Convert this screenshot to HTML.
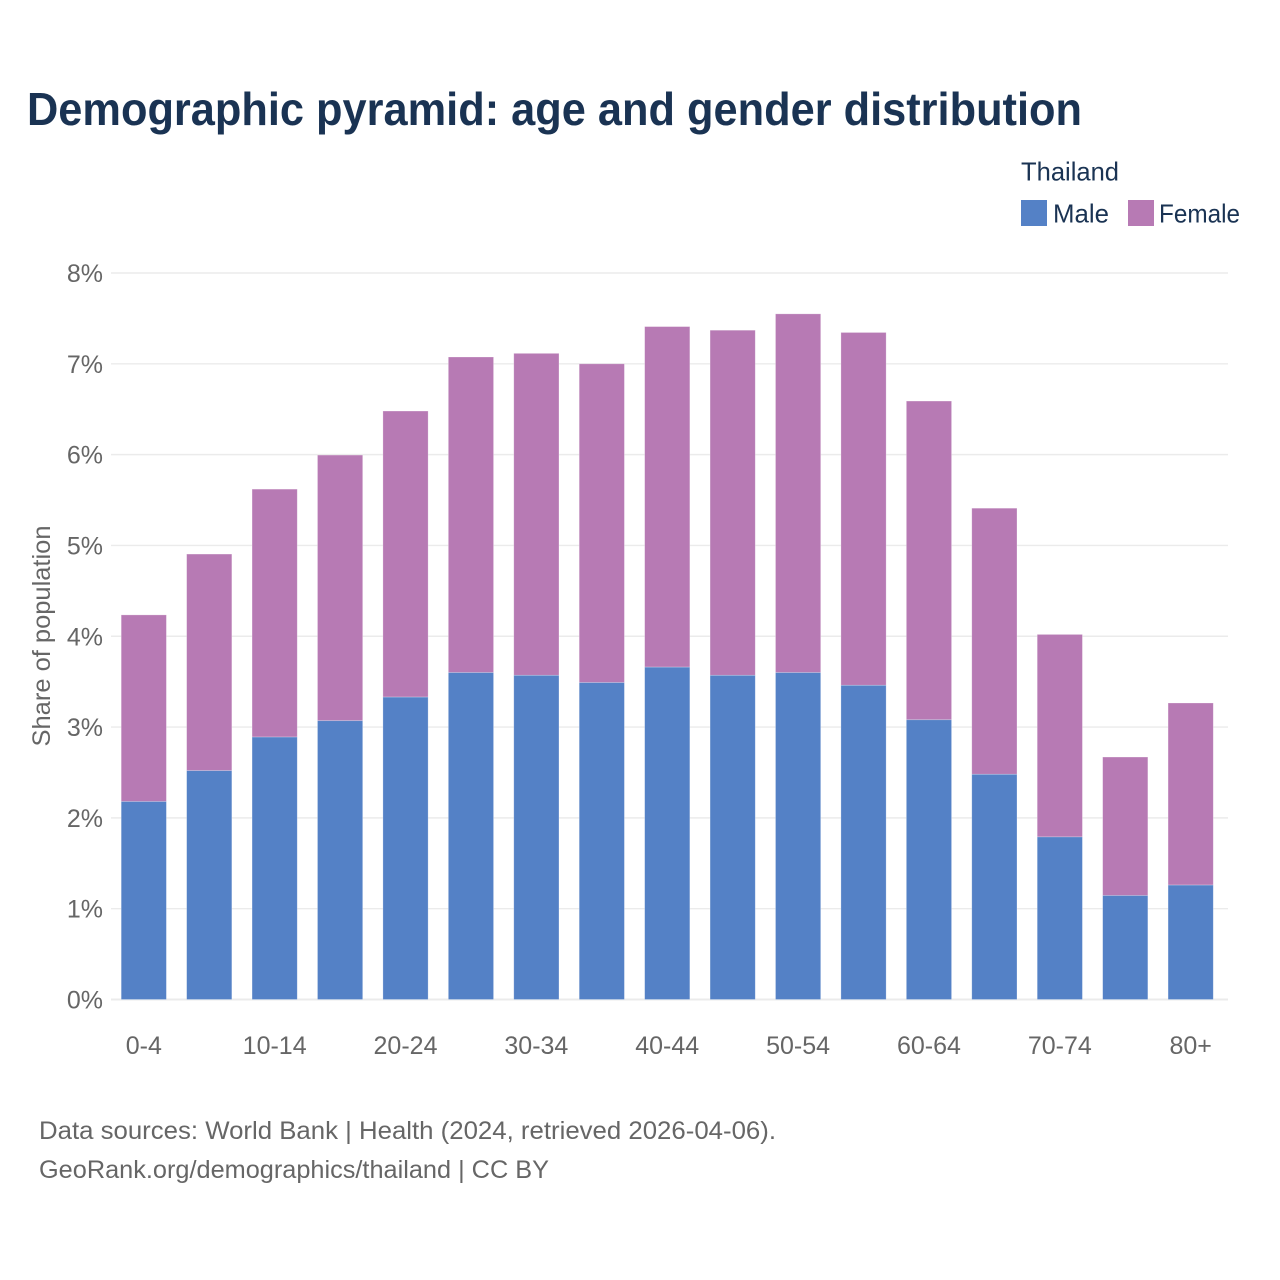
<!DOCTYPE html>
<html lang="en">
<head>
<meta charset="utf-8">
<title>Demographic pyramid: age and gender distribution</title>
<style>
html,body{margin:0;padding:0;background:#fff;width:1280px;height:1280px;overflow:hidden}
svg{display:block}
text{font-family:"Liberation Sans",sans-serif}
.t{fill:#666666;font-size:25px}
.n{fill:#1a3353;font-size:26px}
</style>
</head>
<body>
<svg id="chart" width="1280" height="1280" viewBox="0 0 1280 1280" xmlns="http://www.w3.org/2000/svg">
<text x="27" y="125" fill="#1a3353" font-size="46" font-weight="700" textLength="1055" lengthAdjust="spacingAndGlyphs">Demographic pyramid: age and gender distribution</text>
<text class="n" x="1021" y="180.5" textLength="98" lengthAdjust="spacingAndGlyphs">Thailand</text>
<rect x="1021" y="200" width="26" height="26" fill="#5481c6"/>
<text class="n" x="1053" y="222.5" textLength="56" lengthAdjust="spacingAndGlyphs">Male</text>
<rect x="1128" y="200" width="26" height="26" fill="#b77ab4"/>
<text class="n" x="1159" y="222.5" textLength="81" lengthAdjust="spacingAndGlyphs">Female</text>
<g id="grid"></g>
<g id="bars"></g>
<g id="yticks"></g>
<g id="xticks"></g>
<text class="t" transform="translate(50 636) rotate(-90)" text-anchor="middle" textLength="221" lengthAdjust="spacingAndGlyphs">Share of population</text>
<text class="t" x="39" y="1139" textLength="737" lengthAdjust="spacingAndGlyphs">Data sources: World Bank | Health (2024, retrieved 2026-04-06).</text>
<text class="t" x="39" y="1178" textLength="510" lengthAdjust="spacingAndGlyphs">GeoRank.org/demographics/thailand | CC BY</text>
</svg>
<script>
const ageGroups = ["0-4","5-9","10-14","15-19","20-24","25-29","30-34","35-39","40-44","45-49","50-54","55-59","60-64","65-69","70-74","75-79","80+"];
const maleShare = [2.18,2.52,2.89,3.07,3.33,3.60,3.57,3.49,3.66,3.57,3.60,3.46,3.08,2.48,1.79,1.145,1.26];
const femaleShare = [2.055,2.385,2.73,2.925,3.15,3.475,3.545,3.51,3.75,3.80,3.95,3.885,3.51,2.93,2.23,1.525,2.005];
const yTickValues = [0,1,2,3,4,5,6,7,8];

const NS = "http://www.w3.org/2000/svg";
const plot = {left:111, right:1228, y0:999.5, y8:273, firstCenter:143.8, step:65.43, barWidth:45.2};
const yScale = v => plot.y0 + (plot.y8 - plot.y0) * v / 8;
const xScale = i => plot.firstCenter + plot.step * i;

function make(tag, attrs, parent, text) {
  const el = document.createElementNS(NS, tag);
  for (const k in attrs) el.setAttribute(k, attrs[k]);
  if (text !== undefined) el.textContent = text;
  parent.appendChild(el);
  return el;
}

const gridG = document.getElementById("grid");
const yG = document.getElementById("yticks");
yTickValues.forEach(v => {
  const line = make("line", {x1:plot.left, x2:plot.right, y1:yScale(v), y2:yScale(v), stroke:"#ebebeb", "stroke-width":v === 0 ? 2 : 1.4}, gridG);
  
  
  const label = make("text", {x:103, y:yScale(v) + 9, "text-anchor":"end", class:"t"}, yG, v + "%");
  
  
});

const barsG = document.getElementById("bars");
const xG = document.getElementById("xticks");
ageGroups.forEach((age, i) => {
  const x = xScale(i) - plot.barWidth / 2;
  const m = maleShare[i];
  const f = femaleShare[i];
  const mTop = yScale(m);
  const fTop = yScale(m + f);
  const femaleBar = make("rect", {x:x, y:fTop, width:plot.barWidth, height:mTop - fTop, fill:"#b77ab4", stroke:"#ffffff", "stroke-opacity":0.35, "stroke-width":0.7}, barsG);
  
  
  const maleBar = make("rect", {x:x, y:mTop, width:plot.barWidth, height:plot.y0 - mTop, fill:"#5481c6", stroke:"#ffffff", "stroke-opacity":0.35, "stroke-width":0.7}, barsG);
  
  
  if (i % 2 === 0) {
    const label = make("text", {x:xScale(i), y:1054, "text-anchor":"middle", class:"t"}, xG, age);
    
    
  }
});
</script>
</body>
</html>
